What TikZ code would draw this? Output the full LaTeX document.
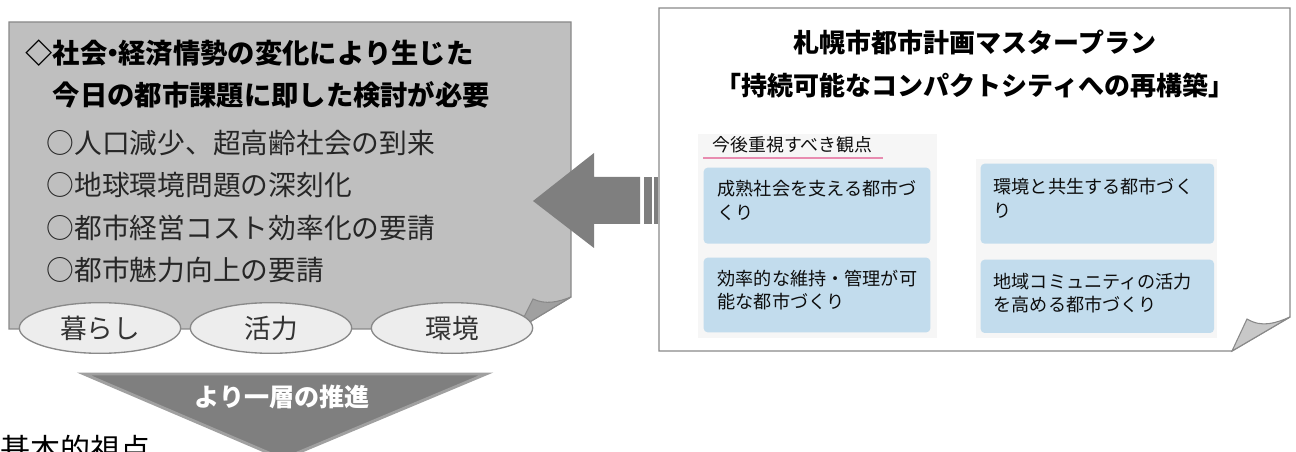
\documentclass[tikz,border=0pt]{standalone}
\usepackage{fontspec}
\setmainfont{Noto Sans CJK JP}
\usepackage{color}
\definecolor{mygray}{RGB}{191,191,191}
\definecolor{myedge}{RGB}{137,137,137}
\definecolor{mylight}{RGB}{237,237,237}
\definecolor{myfold}{RGB}{160,160,160}
\definecolor{mypaper}{RGB}{200,200,200}
\definecolor{myarrow}{RGB}{127,127,127}
\definecolor{mypanel}{RGB}{246,246,246}
\definecolor{myblue}{RGB}{194,220,237}
\definecolor{mypink}{RGB}{232,140,176}
\usepackage{tikz}
\usetikzlibrary{shapes.geometric,positioning,calc}
\tikzstyle{headline}=[anchor=west,inner sep=0pt,font=\bfseries\fontsize{20.5pt}{24pt}\selectfont]
\tikzstyle{itemline}=[anchor=west,inner sep=0pt,text=black!85,font=\fontsize{20.8pt}{24pt}\selectfont]
\tikzstyle{pill}=[draw=myedge,fill=mylight,ellipse,minimum width=121pt,minimum height=38pt,inner sep=0pt,text=black!80,font=\fontsize{20pt}{24pt}\selectfont]
\tikzstyle{title}=[inner sep=0pt,font=\bfseries\fontsize{19.5pt}{24pt}\selectfont]
\tikzstyle{bluebox}=[fill=myblue,rounded corners=3pt,anchor=north west,inner sep=0pt]
\tikzstyle{boxtext}=[anchor=north west,align=left,inner sep=0pt,text=black!95,font=\fontsize{13.6pt}{17.3pt}\selectfont]

\begin{document}
\begin{tikzpicture}[x=0.75pt,y=-0.75pt,line width=1pt]
\useasboundingbox (0,0) rectangle (1296,452);
% left sheet
\draw[draw=myedge,fill=mygray] (9,22) -- (571,22) -- (571,297) -- (518,329) -- (9,329) -- cycle;
\draw[draw=myedge,fill=myfold,line width=0.8pt] (518,329) -- (533,299) .. controls (546,305) and (558,302) .. (571,297) -- cycle;
\draw (25,53) node[headline] (h1) {◇社会\kern-0.3em・\kern-0.3em経済情勢の変化により生じた};
\draw (52,95) node[headline] (h2) {今日の都市課題に即した検討が必要};
\draw (46,143) node[itemline] (i1) {○人口減少、超高齢社会の到来};
\draw (46,185) node[itemline] (i2) {○地球環境問題の深刻化};
\draw (46,228) node[itemline] (i3) {○都市経営コスト効率化の要請};
\draw (46,270) node[itemline] (i4) {○都市魅力向上の要請};
\draw (100,328) node[pill] (kurashi) {暮らし};
\draw (271,328) node[pill] (katsuryoku) {活力};
\draw (452,328) node[pill] (kankyo) {環境};

% right sheet
\draw[draw=myedge,fill=white] (659,8) -- (1290,8) -- (1290,317) -- (1232,351) -- (659,351) -- cycle;
\draw[draw=myedge,fill=mypaper,line width=0.8pt] (1232,351) -- (1247,319) .. controls (1262,328) and (1276,323) .. (1290,317) -- cycle;
\draw (975,43) node[title] (t1) {札幌市都市計画マスタープラン};
\draw (975,86) node[title] (t2) {「持続可能なコンパクトシティへの再構築」};
\fill[mypanel] (698,134) rectangle (937,338);
\fill[mypanel] (976,159) rectangle (1217,338);
\draw (712,145) node[anchor=west,inner sep=0pt,text=black!95,font=\fontsize{13.4pt}{16pt}\selectfont] (kanten) {今後重視すべき観点};
\draw[mypink,line width=2.2pt] (703,158) -- (883,158);
\draw (703,167) node[bluebox,minimum width=170pt,minimum height=57pt] (b1) {};
\draw (703,257) node[bluebox,minimum width=170pt,minimum height=56pt] (b2) {};
\draw (980,163) node[bluebox,minimum width=175pt,minimum height=60pt] (b3) {};
\draw (980,259) node[bluebox,minimum width=175pt,minimum height=55pt] (b4) {};
\draw ([shift={(14,13)}]b1.north west) node[boxtext] {成熟社会を支える都市づ\\くり};
\draw ([shift={(14,12)}]b2.north west) node[boxtext] {効率的な維持・管理が可\\能な都市づくり};
\draw ([shift={(13,15)}]b3.north west) node[boxtext] {環境と共生する都市づく\\り};
\draw ([shift={(13,14)}]b4.north west) node[boxtext] {地域コミュニティの活力\\を高める都市づくり};

% arrow between sheets
\fill[myarrow] (533,201) -- (594,153) -- (594,177) -- (640,177) -- (640,224) -- (594,224) -- (594,248) -- cycle;
\fill[myarrow] (644,177) rectangle (652,224);
\fill[myarrow] (654,177) rectangle (658,224);

% downward triangle
\draw[draw=myfold,fill=myarrow,line width=2.2pt] (84,374) -- (486,374) -- (283,459) -- cycle;
\draw (282,397) node[inner sep=0pt,text=white,font=\bfseries\fontsize{18.8pt}{22pt}\selectfont] (push) {より一層の推進};
\draw (0,449) node[anchor=west,inner sep=0pt,font=\fontsize{22.5pt}{26pt}\selectfont] (kihon) {基本的視点};
\end{tikzpicture}
\end{document}
